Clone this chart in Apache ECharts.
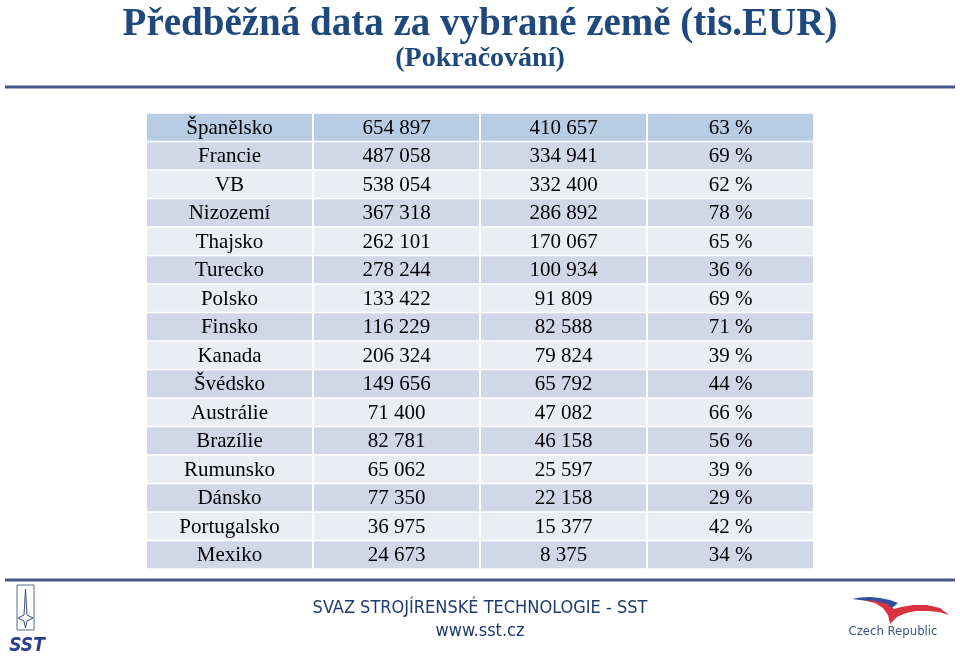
<!DOCTYPE html>
<html>
<head>
<meta charset="utf-8">
<script src="https://cdn.jsdelivr.net/npm/echarts@6/dist/echarts.min.js"></script>
<style>
html,body{margin:0;padding:0;background:#fff;}
#chart{width:960px;height:661px;}
</style>
</head>
<body>
<div id="chart"></div>
<script>
// ---- data ----
const countries = ['Španělsko','Francie','VB','Nizozemí','Thajsko','Turecko','Polsko','Finsko','Kanada','Švédsko','Austrálie','Brazílie','Rumunsko','Dánsko','Portugalsko','Mexiko'];
const valuesA = [654897,487058,538054,367318,262101,278244,133422,116229,206324,149656,71400,82781,65062,77350,36975,24673];
const valuesB = [410657,334941,332400,286892,170067,100934,91809,82588,79824,65792,47082,46158,25597,22158,15377,8375];
const shares = [63,69,62,78,65,36,69,71,39,44,66,56,39,29,42,34];
const columns = ['Země','Hodnota A','Hodnota B','Podíl'];
const titleText = 'Předběžná data za vybrané země (tis.EUR)';
const subtitleText = '(Pokračování)';

function fmt(n){ return String(n).replace(/\B(?=(\d{3})+(?!\d))/g,' '); }
function cellText(col,row){
  if(col===0) return countries[row];
  if(col===1) return fmt(valuesA[row]);
  if(col===2) return fmt(valuesB[row]);
  return shares[row] + ' %';
}
const cells = [];
for(let r=0;r<countries.length;r++){ for(let c=0;c<columns.length;c++){ cells.push([c,r]); } }

const chart = echarts.init(document.getElementById('chart'), null, {renderer:'canvas'});
const navy = '#1F497D';
const option = {
  backgroundColor:'#ffffff',
  animation:false,
  title:[
    {text:titleText,left:'center',top:0,textStyle:{fontFamily:'Liberation Serif',fontWeight:'bold',fontSize:39,color:navy}},
    {text:subtitleText,left:'center',top:40,textStyle:{fontFamily:'Liberation Serif',fontWeight:'bold',fontSize:28,color:navy}}
  ],
  grid:{left:146,right:146,top:113,bottom:92},
  xAxis:{type:'category',data:columns,show:false},
  yAxis:{type:'category',data:countries,inverse:true,show:false},
  series:[{
    type:'custom',
    data:cells,
    renderItem:function(params,api){
      const col=api.value(0), row=api.value(1);
      const c=api.coord([col,row]);
      const s=api.size([1,1]);
      const fill = row===0 ? '#B8CCE4' : (row%2===1 ? '#D0D8E8' : '#E9EDF4');
      return {type:'group',children:[
        {type:'rect',shape:{x:c[0]-s[0]/2+1,y:c[1]-s[1]/2+0.75,width:s[0]-2,height:s[1]-1.5},style:{fill:fill}},
        {type:'text',style:{text:cellText(col,row),x:c[0],y:c[1]+1,align:'center',verticalAlign:'middle',fill:'#000',fontSize:21,fontFamily:'Liberation Serif'}}
      ]};
    }
  }],
  graphic:[
    {type:'line',shape:{x1:5,y1:87,x2:955,y2:87},style:{stroke:'#46568A',lineWidth:3}},
    {type:'line',shape:{x1:5,y1:580,x2:955,y2:580},style:{stroke:'#46568A',lineWidth:3}},
    // SST logo
    {type:'rect',shape:{x:17,y:585,width:17,height:45},style:{fill:'none',stroke:'#5a6a96',lineWidth:1}},
    {type:'polygon',shape:{points:[[25.5,589],[27,615],[33,618],[27,621],[25.5,628],[24,621],[18,618],[24,615]]},style:{fill:'#ffffff',stroke:'#3a4a80',lineWidth:1}},
    {type:'text',style:{text:'SST',x:27,y:646,align:'center',verticalAlign:'middle',fontSize:19,fontWeight:'bold',fontStyle:'italic',fontFamily:'Liberation Sans Narrow, DejaVu Sans Condensed',fill:'#2B3F8A'}},
    // footer text
    {type:'text',style:{text:'SVAZ STROJÍRENSKÉ TECHNOLOGIE - SST',x:480,y:608,align:'center',verticalAlign:'middle',fontSize:18,fontFamily:'Liberation Sans Narrow, DejaVu Sans Condensed',fill:'#1F3A6E'}},
    {type:'text',style:{text:'www.sst.cz',x:480,y:631,align:'center',verticalAlign:'middle',fontSize:18,fontFamily:'Liberation Sans Narrow, DejaVu Sans Condensed',fill:'#1F3A6E'}},
    // Czech Republic logo
    {type:'polygon',shape:{points:[[852,599],[860,597.5],[870,597],[880,598],[890,600],[898,603],[892,608],[884,605],[875,602.5],[864,600.5]]},style:{fill:'#2F4FA0'}},
    {type:'polygon',shape:{points:[[864,600],[875,603],[883,608],[888,615],[890,624],[897,617],[906,613],[916,611],[928,611],[939,612],[949,615],[940,608],[927,605],[913,605],[901,607],[894,609],[887,604],[876,601]]},style:{fill:'#D9333F'}},
    {type:'text',style:{text:'Czech Republic',x:893,y:632,align:'center',verticalAlign:'middle',fontSize:13,fontFamily:'Liberation Sans Narrow, DejaVu Sans Condensed',fill:'#3A5488'}}
  ]
};
chart.setOption(option);
</script>
</body>
</html>
